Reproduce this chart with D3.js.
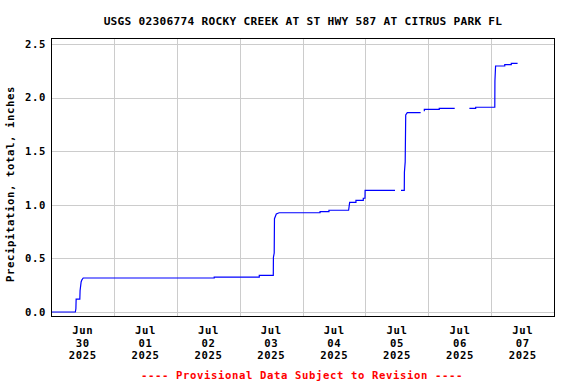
<!DOCTYPE html>
<html>
<head>
<meta charset="utf-8">
<script src="https://cdn.jsdelivr.net/npm/d3@7"></script>
<style>
  html, body { margin: 0; padding: 0; background: #fff; }
  svg { display: block; }
  text { font-family: "DejaVu Sans Mono", "Liberation Mono", monospace; font-weight: bold; }
  .big { font-size: 11.2px; letter-spacing: 0.26px; }
  .small { font-size: 10.6px; letter-spacing: 0.62px; }
</style>
</head>
<body>
<svg id="chart" width="576" height="384"></svg>
<script>
// ---- Data ----
const title = "USGS 02306774 ROCKY CREEK AT ST HWY 587 AT CITRUS PARK FL";
const yLabel = "Precipitation, total, inches";
const footer = "---- Provisional Data Subject to Revision ----";
const startDate = "2025-06-30T00:00:00";
const endDate = "2025-07-08T00:00:00";
const yTicks = [0.0, 0.5, 1.0, 1.5, 2.0, 2.5];
const xTickDays = ["2025-06-30", "2025-07-01", "2025-07-02", "2025-07-03", "2025-07-04", "2025-07-05", "2025-07-06", "2025-07-07"];
const xTickMonths = ["Jun", "Jul", "Jul", "Jul", "Jul", "Jul", "Jul", "Jul"];
const xTickDayNums = ["30", "01", "02", "03", "04", "05", "06", "07"];
const xTickYears = ["2025", "2025", "2025", "2025", "2025", "2025", "2025", "2025"];
// hours since Jun 30 00:00, cumulative precipitation (null = gap)
const hours = [0, 9.3, 9.5, 9.6, 11.0, 11.1, 11.5, 11.8, 12.3,
  62.3, 62.3, 79.5, 79.5, 84.85, 84.9, 85.2, 85.3, 86.0, 87.1,
  102.7, 102.7, 106.1, 106.1, 113.6, 114.0, 116.4, 116.4, 119.2, 119.2, 119.85, 119.9, 131.3,
  132.5,
  133.6, 134.85, 134.9, 135.2, 135.4, 136.0, 141.1,
  141.8,
  142.5, 142.5, 148.2, 148.2, 154.1,
  157.0,
  159.7, 162.1, 162.1, 169.4, 169.45, 169.7, 173.2, 173.2, 175.7, 175.7, 178.1];
const values = [0.0, 0.0, 0.03, 0.12, 0.12, 0.2, 0.28, 0.30, 0.317,
  0.317, 0.326, 0.326, 0.342, 0.342, 0.51, 0.55, 0.87, 0.915, 0.926,
  0.926, 0.936, 0.936, 0.949, 0.949, 1.023, 1.023, 1.042, 1.042, 1.061, 1.061, 1.135, 1.135,
  null,
  1.135, 1.135, 1.303, 1.40, 1.838, 1.859, 1.859,
  null,
  1.872, 1.891, 1.891, 1.900, 1.900,
  null,
  1.900, 1.900, 1.910, 1.910, 2.155, 2.295, 2.295, 2.307, 2.307, 2.320, 2.320];

// ---- Layout ----
const svg = d3.select("#chart");
const pLeft = 51, pRight = 554, pTop = 38, pBottom = 316;
const x = d3.scaleTime().domain([new Date(startDate), new Date(endDate)]).range([pLeft, pRight]);
const y = d3.scaleLinear().domain([0, 2.5]).range([312, 44]);

// gridlines
const gx = svg.append("g").attr("shape-rendering", "crispEdges");
gx.selectAll("line.v").data(xTickDays.slice(1)).join("line")
  .attr("x1", d => Math.round(x(new Date(d + "T00:00:00"))) + 0.5)
  .attr("x2", d => Math.round(x(new Date(d + "T00:00:00"))) + 0.5)
  .attr("y1", pTop).attr("y2", pBottom)
  .attr("stroke", "#cccccc").attr("stroke-width", 1);
gx.selectAll("line.h").data(yTicks).join("line")
  .attr("x1", pLeft).attr("x2", pRight)
  .attr("y1", d => Math.round(y(d)) + 0.5)
  .attr("y2", d => Math.round(y(d)) + 0.5)
  .attr("stroke", "#cccccc").attr("stroke-width", 1);

// data line
const t0 = new Date(startDate).getTime();
const pts = hours.map((h, i) => ({ t: new Date(t0 + h * 3600000), v: values[i] }));
const line = d3.line().defined(d => d.v !== null).x(d => x(d.t)).y(d => y(d.v));
svg.append("path").datum(pts).attr("d", line)
  .attr("fill", "none").attr("stroke", "#0000ff").attr("stroke-width", 1.2);

// frame
svg.append("rect").attr("x", pLeft + 0.5).attr("y", pTop + 0.5)
  .attr("width", pRight - pLeft).attr("height", pBottom - pTop)
  .attr("fill", "none").attr("stroke", "#000").attr("stroke-width", 1)
  .attr("shape-rendering", "crispEdges");

// y tick labels
svg.selectAll("text.yt").data(yTicks).join("text")
  .attr("class", "small")
  .attr("x", 46).attr("y", d => y(d)).attr("dy", "0.36em")
  .attr("text-anchor", "end").attr("fill", "#000")
  .text(d => d3.format(".1f")(d));

// x tick labels (centered at noon)
const xl = svg.append("g");
xTickDays.forEach((d, i) => {
  const cx = x(new Date(d + "T12:00:00"));
  const lines = [xTickMonths[i], xTickDayNums[i], xTickYears[i]];
  lines.forEach((s, j) => {
    xl.append("text").attr("class", "small").attr("x", cx + 0.3).attr("y", 334 + j * 12.5)
      .attr("text-anchor", "middle").attr("fill", "#000").text(s);
  });
});

// title
svg.append("text").attr("class", "big").attr("x", 303).attr("y", 25).attr("text-anchor", "middle")
  .attr("fill", "#000").text(title);

// y axis label
svg.append("text").attr("class", "small").attr("transform", "translate(14,184) rotate(-90)")
  .attr("text-anchor", "middle").attr("fill", "#000").text(yLabel);

// footer
svg.append("text").attr("class", "small").attr("x", 302).attr("y", 379).attr("text-anchor", "middle")
  .attr("fill", "#ff0000").text(footer);
</script>
</body>
</html>
